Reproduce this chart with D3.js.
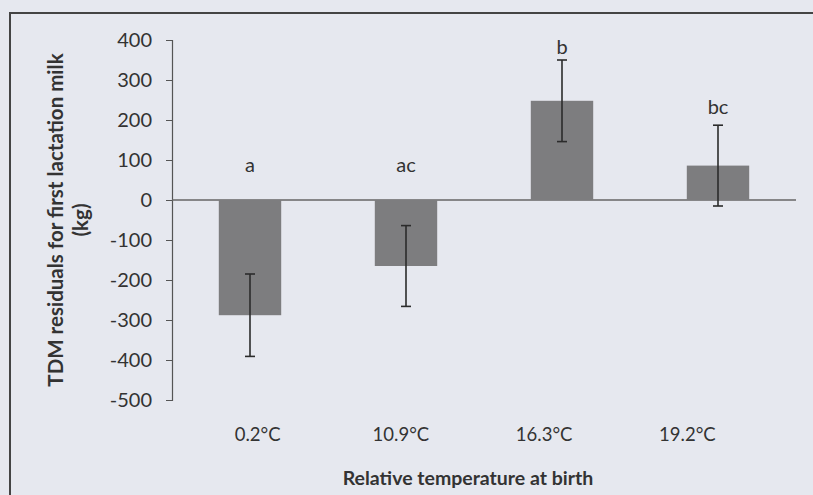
<!DOCTYPE html>
<meta charset="utf-8">
<style>
body { margin: 0; background: #e6e8ef; }
svg { display: block; }
text { font-family: "Lato", "Open Sans", sans-serif; fill: #333; }
.axis path, .axis line { stroke: #555; }
.title { font-weight: bold; }
</style>
<body>
<script src="https://d3js.org/d3.v7.min.js"></script>
<script>

var temps = ["0.2°C", "10.9°C", "16.3°C", "19.2°C"];
var residuals = [-288, -165, 248, 86];
var errors = [103, 101, 102, 101];
var letters = ["a", "ac", "b", "bc"];
var letterAt = [88, 88, 382, 232];   // where the letters sit, in kg
var yTicks = [400, 300, 200, 100, 0, -100, -200, -300, -400, -500];

var width = 813, height = 495;

var svg = d3.select("body").append("svg")
    .attr("width", width)
    .attr("height", height);

// frame round the figure (only top and left are in view)
svg.append("path")
    .attr("d", "M10," + height + "V13H" + width)
    .attr("fill", "none")
    .attr("stroke", "#444")
    .attr("stroke-width", 2);

var y = d3.scaleLinear()
    .domain([-500, 400])
    .range([400, 40]);

var x = d3.scaleBand()
    .domain(temps)
    .range([172, 796])
    .paddingInner(0.6)
    .paddingOuter(0.3);

// the category labels sit on their own spacing in the original
var xLab = d3.scaleBand()
    .domain(temps)
    .range([186, 759]);

// y axis, plain hyphen for the minus like the original
var yAxis = svg.append("g")
    .attr("class", "axis")
    .attr("transform", "translate(172,0)")
    .call(d3.axisLeft(y).tickValues(yTicks).tickSize(6).tickPadding(14)
      .tickFormat(function(d) { return String(d); }));
yAxis.selectAll("text")
    .style("font-size", "20px")
    .attr("fill", "#333");
yAxis.select(".domain").attr("stroke-width", 1.2);

// zero line
svg.append("line")
    .attr("x1", 172).attr("x2", 796)
    .attr("y1", y(0)).attr("y2", y(0))
    .attr("stroke", "#666")
    .attr("stroke-width", 1.5);

// bars
svg.selectAll(".bar")
    .data(residuals)
    .enter().append("rect")
    .attr("class", "bar")
    .attr("x", function(d, i) { return x(temps[i]); })
    .attr("width", x.bandwidth())
    .attr("y", function(d) { return y(Math.max(0, d)); })
    .attr("height", function(d) { return Math.abs(y(d) - y(0)); })
    .attr("fill", "#7d7d7f");

// error bars
var err = svg.selectAll(".err")
    .data(residuals)
    .enter().append("g")
    .attr("class", "err")
    .attr("stroke", "#2b2b2b")
    .attr("stroke-width", 1.6);
err.append("line")
    .attr("x1", function(d, i) { return x(temps[i]) + x.bandwidth() / 2; })
    .attr("x2", function(d, i) { return x(temps[i]) + x.bandwidth() / 2; })
    .attr("y1", function(d, i) { return y(d + errors[i]); })
    .attr("y2", function(d, i) { return y(d - errors[i]); });
[1, -1].forEach(function(s) {
  err.append("line")
      .attr("x1", function(d, i) { return x(temps[i]) + x.bandwidth() / 2 - 5; })
      .attr("x2", function(d, i) { return x(temps[i]) + x.bandwidth() / 2 + 5; })
      .attr("y1", function(d, i) { return y(d + s * errors[i]); })
      .attr("y2", function(d, i) { return y(d + s * errors[i]); });
});

// significance letters
svg.selectAll(".letter")
    .data(letters)
    .enter().append("text")
    .attr("class", "letter")
    .attr("x", function(d, i) { return x(temps[i]) + x.bandwidth() / 2; })
    .attr("y", function(d, i) { return y(letterAt[i]); })
    .attr("dy", "0.35em")
    .attr("text-anchor", "middle")
    .style("font-size", "20px")
    .text(function(d) { return d; });

// category labels
svg.selectAll(".cat")
    .data(temps)
    .enter().append("text")
    .attr("class", "cat")
    .attr("x", function(d) { return xLab(d) + xLab.bandwidth() / 2; })
    .attr("y", 435)
    .attr("dy", "0.35em")
    .attr("text-anchor", "middle")
    .style("font-size", "18.5px")
    .text(function(d) { return d; });

// axis titles
svg.append("text")
    .attr("class", "title")
    .attr("x", 468)
    .attr("y", 478)
    .attr("dy", "0.35em")
    .attr("text-anchor", "middle")
    .style("font-size", "19.5px")
    .text("Relative temperature at birth");

var yt = svg.append("text")
    .attr("class", "title")
    .attr("transform", "translate(56,220) rotate(-90)")
    .attr("text-anchor", "middle")
    .style("font-size", "20.5px");
yt.append("tspan").attr("x", 0).attr("dy", "0.35em").text("TDM residuals for first lactation milk");
yt.append("tspan").attr("x", 0).attr("dy", "1.2em").text("(kg)");

</script>
